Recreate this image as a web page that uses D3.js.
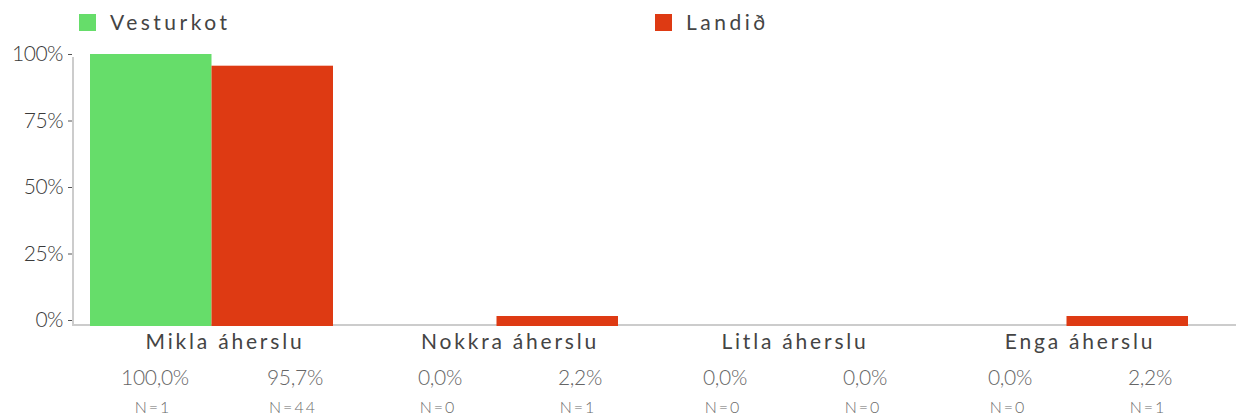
<!DOCTYPE html>
<html>
<head>
<meta charset="utf-8">
<script src="https://cdn.jsdelivr.net/npm/d3@7"></script>
<style>
  body { margin: 0; background: #fff; }
  text { font-family: Lato, "Open Sans", sans-serif; }
</style>
</head>
<body>
<div class="chart"></div>
<script>

const categories = ["Mikla áherslu", "Nokkra áherslu", "Litla áherslu", "Enga áherslu"]
const seriesNames = ["Vesturkot", "Landið"]
const vesturkot = [1.0, 0.0, 0.0, 0.0]
const landid = [0.957, 0.022, 0.0, 0.022]
const vesturkotN = [1, 0, 0, 0]
const landidN = [44, 1, 0, 1]
const yTicks = [0, 0.25, 0.5, 0.75, 1]
const colors = ["#66dd6a", "#de3a13"]

const width = 1242, height = 419
const minBar = 10   // small non-zero bars get a visible minimum height

const svg = d3.select(".chart").append("svg")
    .attr("width", width)
    .attr("height", height)

const xScale = d3.scaleBand()
    .domain(categories)
    .range([68.5, 1208.5])

const xSub = d3.scaleBand()
    .domain(seriesNames)
    .range([21.5, 264.5])

const yScale = d3.scaleLinear()
    .domain([0, 1])
    .range([326, 54])

// axis ticks sit a little above the bar baseline in the original
const yAxisScale = d3.scaleLinear()
    .domain([0, 1])
    .range([320, 54])

const color = d3.scaleOrdinal().domain(seriesNames).range(colors)

// ----axes lines----
svg.append("line")
    .attr("x1", 73).attr("x2", 73)
    .attr("y1", 57).attr("y2", 326)
    .attr("stroke", "#cccccc").attr("stroke-width", 2)

const yAxis = d3.axisLeft(yAxisScale)
    .tickValues(yTicks)
    .tickFormat(d => Math.round(d * 100) + "%")
    .tickSize(4)
    .tickPadding(5)

const yg = svg.append("g")
    .attr("transform", "translate(72,0)")
    .call(yAxis)
yg.select(".domain").remove()
yg.selectAll(".tick line").attr("stroke", "#555")
yg.selectAll(".tick text")
    .attr("fill", "#3a3a3a")
    .style("font-size", "21px")
    .style("font-weight", "300")
    .style("letter-spacing", "-0.5px")

// ----bars----
const rows = categories.map((c, i) => ({
    cat: c,
    vals: [
        {name: seriesNames[0], v: vesturkot[i], n: vesturkotN[i]},
        {name: seriesNames[1], v: landid[i], n: landidN[i]}
    ]
}))

const groups = svg.selectAll(".grp")
    .data(rows)
    .enter().append("g")
    .attr("class", "grp")
    .attr("transform", d => `translate(${xScale(d.cat)},0)`)

groups.selectAll("rect")
    .data(d => d.vals.filter(v => v.v > 0))
    .enter().append("rect")
    .attr("x", d => xSub(d.name))
    .attr("y", d => Math.min(yScale(d.v), yScale(0) - minBar))
    .attr("width", xSub.bandwidth())
    .attr("height", d => Math.max(yScale(0) - yScale(d.v), minBar))
    .attr("fill", d => color(d.name))

svg.append("line")
    .attr("x1", 72).attr("x2", 1236)
    .attr("y1", 325).attr("y2", 325)
    .attr("stroke", "#cccccc").attr("stroke-width", 2)
    .lower()

// category labels
groups.append("text")
    .attr("x", xScale.bandwidth() / 2 + 14)
    .attr("y", 349)
    .attr("text-anchor", "middle")
    .attr("fill", "#444")
    .style("font-size", "21px")
    .style("letter-spacing", "2.8px")
    .text(d => d.cat)

const offsets = [-56, 84]

groups.selectAll(".val")
    .data(d => d.vals)
    .enter().append("text")
    .attr("class", "val")
    .attr("x", (d, i) => xScale.bandwidth() / 2 + offsets[i])
    .attr("y", 385)
    .attr("text-anchor", "middle")
    .attr("fill", "#666")
    .style("font-size", "21px")
    .style("font-weight", "300")
    .style("letter-spacing", "-0.3px")
    .text(d => d3.format(".1f")(d.v * 100).replace(".", ",") + "%")

groups.selectAll(".nlab")
    .data(d => d.vals)
    .enter().append("text")
    .attr("class", "nlab")
    .attr("x", (d, i) => xScale.bandwidth() / 2 + offsets[i] - 2)
    .attr("y", 413)
    .attr("text-anchor", "middle")
    .attr("fill", "#6a6a6a")
    .style("font-size", "16px")
    .style("font-weight", "300")
    .style("letter-spacing", "2px")
    .text(d => "N=" + d.n)

// ----legend----
const legendX = [79, 655]
const legend = svg.selectAll(".leg")
    .data(seriesNames)
    .enter().append("g")
    .attr("class", "leg")
    .attr("transform", (d, i) => `translate(${legendX[i]},14)`)

legend.append("rect")
    .attr("width", 17).attr("height", 17)
    .attr("fill", d => color(d))

legend.append("text")
    .attr("x", 31)
    .attr("y", 16)
    .attr("fill", "#444")
    .style("font-size", "21px")
    .style("letter-spacing", "3.5px")
    .text(d => d)

</script>
</body>
</html>
